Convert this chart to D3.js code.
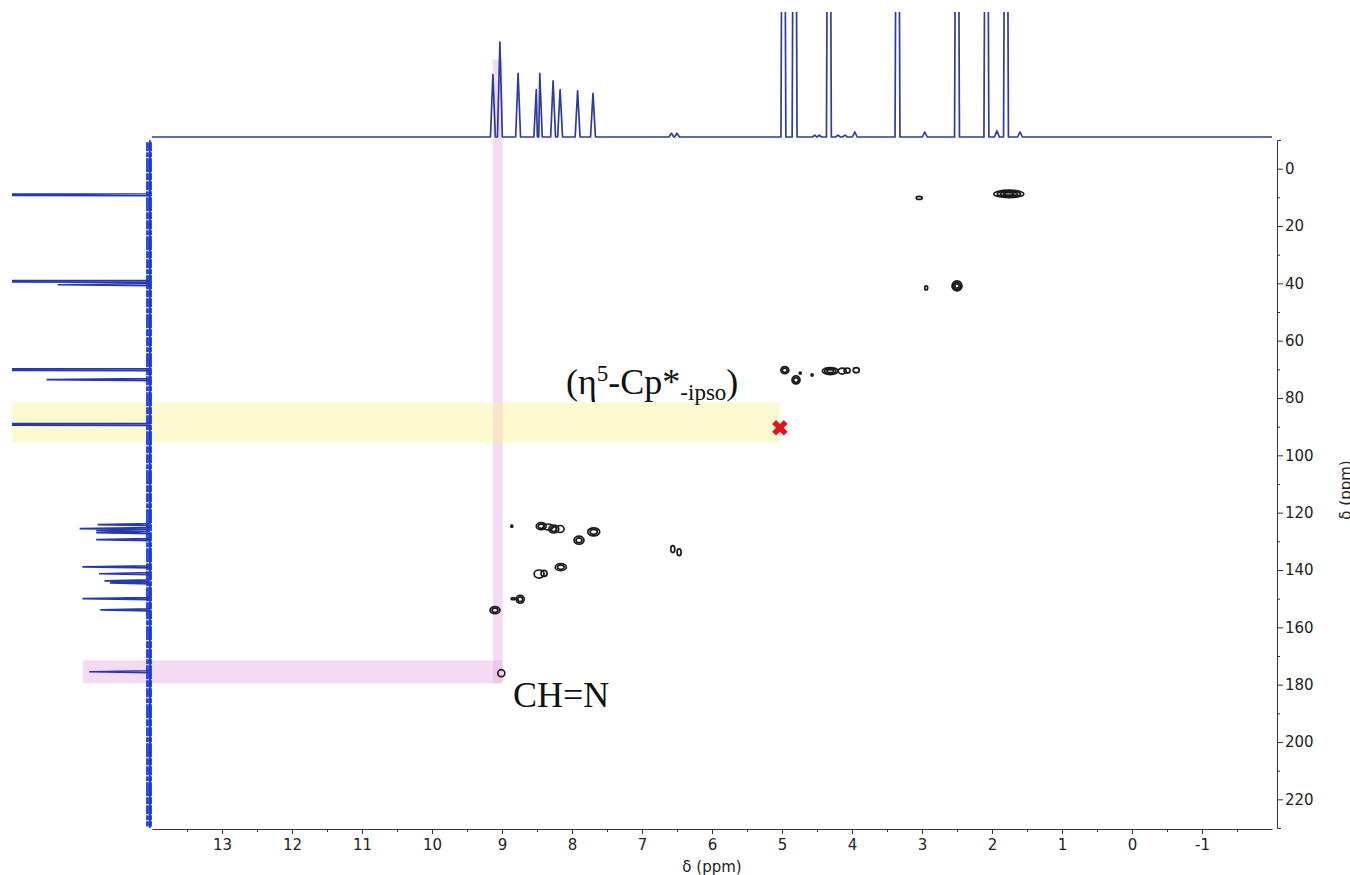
<!DOCTYPE html>
<html>
<head>
<meta charset="utf-8">
<script src="https://cdn.jsdelivr.net/npm/d3@7"></script>
<style>
body{margin:0;background:#fff;}
svg text{font-family:"DejaVu Sans",Tahoma,sans-serif;}
.axis path,.axis line{stroke:#333;stroke-width:1;}
.axis text{font-size:15px;fill:#222;font-family:"DejaVu Sans",Tahoma,sans-serif;}
.lbl{font-family:"Liberation Serif","Times New Roman",serif;fill:#111;}
</style>
</head>
<body>
<svg id="chart" width="1350" height="875"></svg>
<script>
// 1H projection (top): shift in ppm, relative height (1 = top of the strip, larger is clipped)
var protonShift  = [9.13, 9.03, 8.77, 8.51, 8.46, 8.27, 8.17, 7.92, 7.70, 6.58, 6.50, 4.98, 4.82, 4.53, 4.47, 4.33, 4.20, 4.10, 3.96, 3.35, 2.96, 2.50, 2.08, 1.93, 1.80, 1.60];
var protonHeight = [0.50, 0.76, 0.51, 0.38, 0.51, 0.45, 0.38, 0.37, 0.35, 0.03, 0.03, 5, 5, 0.015, 0.015, 5, 0.015, 0.015, 0.04, 5, 0.04, 5, 5, 0.05, 5, 0.04];

// 13C projection (left): shift in ppm, relative height (1 = left edge)
var carbonShift  = [9.1, 39.3, 40.5, 70.1, 73.6, 89.2, 124.2, 125.6, 126.3, 127.0, 129.4, 138.9, 141.3, 143.8, 144.5, 150.0, 153.9, 175.5];
var carbonHeight = [3, 3, 0.67, 3, 0.75, 3, 0.38, 0.51, 0.39, 0.39, 0.39, 0.49, 0.37, 0.33, 0.29, 0.49, 0.36, 0.44];

// cross peaks: 1H ppm, 13C ppm, half widths (ppm), contour levels
var crossH  = [1.76, 3.04, 2.94, 2.50, 4.96, 4.80, 4.74, 4.57, 4.31, 4.14, 4.07, 3.94, 8.86, 8.44, 8.34, 8.26, 8.17, 7.69, 7.90, 6.56, 6.47, 8.16, 8.47, 8.40, 8.74, 8.84, 9.10, 9.01];
var crossC  = [8.8, 10.2, 41.6, 40.9, 70.3, 73.7, 71.3, 72.0, 70.6, 70.6, 70.4, 70.3, 124.7, 124.7, 125.0, 125.7, 125.7, 126.7, 129.6, 132.7, 133.8, 139.0, 141.4, 141.2, 150.2, 150.0, 154.0, 176.0];
var crossWH = [0.214, 0.043, 0.021, 0.071, 0.057, 0.057, 0.014, 0.014, 0.114, 0.057, 0.043, 0.043, 0.014, 0.071, 0.071, 0.071, 0.057, 0.086, 0.071, 0.029, 0.029, 0.079, 0.071, 0.043, 0.057, 0.029, 0.071, 0.05];
var crossWC = [1.3, 0.52, 0.7, 1.74, 1.22, 1.4, 0.35, 0.42, 1.22, 1.05, 0.87, 0.87, 0.35, 1.22, 1.05, 1.4, 1.22, 1.4, 1.4, 1.22, 1.22, 1.22, 1.4, 1.05, 1.4, 0.35, 1.22, 1.22];
var crossLev = [4, 1, 1, 3, 2, 2, 1, 1, 3, 1, 1, 1, 1, 2, 1, 2, 1, 2, 2, 1, 1, 2, 1, 1, 2, 1, 2, 1];

// axis ticks
var xTicks = [13, 12, 11, 10, 9, 8, 7, 6, 5, 4, 3, 2, 1, 0, -1];
var xMinor = [13.5, 12.5, 11.5, 10.5, 9.5, 8.5, 7.5, 6.5, 5.5, 4.5, 3.5, 2.5, 1.5, 0.5, -0.5, -1.5];
var yTicks = [0, 20, 40, 60, 80, 100, 120, 140, 160, 180, 200, 220];
var yMinor = [10, 30, 50, 70, 90, 110, 130, 150, 170, 190, 210];

// highlights (ppm)
var pinkH = [9.13, 8.99];        // 1H range of the CH=N column
var pinkC = [171.5, 179.5];      // 13C range of the CH=N row
var yellowC = [81.6, 95.6];      // 13C range of the Cp* ipso row
var ipsoMark = [5.03, 90.4];     // missing ipso cross peak

var svg = d3.select("#chart");

var xH = d3.scaleLinear().domain([14, -2]).range([152, 1272]);
var yC = d3.scaleLinear().domain([-10, 230]).range([140, 828]);
var yTop = d3.scaleLinear().domain([0, 1]).range([137, 12]);
var xC = d3.scaleLinear().domain([0, 1]).range([150, 12]);

var defs = svg.append("defs");
defs.append("clipPath").attr("id", "clipTop").append("rect")
	.attr("x", 0).attr("y", yTop(1)).attr("width", 1350).attr("height", yTop(0) - yTop(1) + 4);
defs.append("clipPath").attr("id", "clipLeft").append("rect")
	.attr("x", xC(1)).attr("y", 0).attr("width", xC(0) - xC(1) + 6).attr("height", 875);

// highlight bands
svg.append("rect")
	.attr("x", xH(pinkH[0])).attr("y", yTop(0.62))
	.attr("width", xH(pinkH[1]) - xH(pinkH[0])).attr("height", yC(pinkC[1]) - yTop(0.62))
	.attr("fill", "#e6b0e4").attr("opacity", 0.45);
svg.append("rect")
	.attr("x", xC(0.486)).attr("y", yC(pinkC[0]))
	.attr("width", xH(pinkH[1]) - xC(0.486)).attr("height", yC(pinkC[1]) - yC(pinkC[0]))
	.attr("fill", "#e6b0e4").attr("opacity", 0.45);
svg.append("rect")
	.attr("x", xC(1)).attr("y", yC(yellowC[0]))
	.attr("width", xH(ipsoMark[0]) - xC(1)).attr("height", yC(yellowC[1]) - yC(yellowC[0]))
	.attr("fill", "#faf29a").attr("opacity", 0.45);

// top 1H trace
var hw = 0.035;
var topPts = [[14, 0]];
protonShift.forEach(function(p, i){
	topPts.push([p + hw, 0], [p, protonHeight[i]], [p - hw, 0]);
});
topPts.push([-2, 0]);
topPts.sort(function(a, b){ return b[0] - a[0]; });

svg.append("path")
	.attr("clip-path", "url(#clipTop)")
	.attr("d", d3.line().x(function(d){ return xH(d[0]); }).y(function(d){ return yTop(d[1]); })(topPts))
	.attr("fill", "none").attr("stroke", "#2e3c9c").attr("stroke-width", 1.7)
	.attr("stroke-linejoin", "round");

// left 13C trace: noise band then peaks
svg.append("line")
	.attr("x1", xC(0) - 1).attr("x2", xC(0) - 1)
	.attr("y1", yC(-9.2)).attr("y2", yC(229.5))
	.attr("stroke", "#2a4ee6").attr("stroke-width", 6)
	.attr("stroke-dasharray", "9,1,5,1,14,1,7,1");

var cw = 0.35;
var leftPts = [[-10, 0]];
carbonShift.forEach(function(c, i){
	leftPts.push([c - cw, 0], [c, carbonHeight[i]], [c + cw, 0]);
});
leftPts.push([230, 0]);
leftPts.sort(function(a, b){ return a[0] - b[0]; });

svg.append("path")
	.attr("clip-path", "url(#clipLeft)")
	.attr("d", d3.line().x(function(d){ return xC(d[1]); }).y(function(d){ return yC(d[0]); })(leftPts))
	.attr("fill", "none").attr("stroke", "#2638b0").attr("stroke-width", 1.7);

// contours
var rings = [];
crossH.forEach(function(h, i){
	for (var k = 0; k < crossLev[i]; k++) {
		var f = 1 - k / (crossLev[i] + 0.5);
		rings.push({h: h, c: crossC[i], rx: crossWH[i] * f, ry: crossWC[i] * f});
	}
});
svg.append("g").selectAll("ellipse")
	.data(rings)
	.enter()
	.append("ellipse")
	.attr("cx", function(d){ return xH(d.h); })
	.attr("cy", function(d){ return yC(d.c); })
	.attr("rx", function(d){ return Math.abs(xH(d.h + d.rx) - xH(d.h)); })
	.attr("ry", function(d){ return Math.abs(yC(d.c + d.ry) - yC(d.c)); })
	.attr("fill", "none").attr("stroke", "#1a1a1a").attr("stroke-width", 1.7);

// red cross marker
svg.append("path")
	.attr("d", d3.symbol().type(d3.symbolCross).size(150)())
	.attr("transform", "translate(" + xH(ipsoMark[0]) + "," + yC(ipsoMark[1]) + ") rotate(45)")
	.attr("fill", "#e3141b");

// bottom axis
var gx = svg.append("g").attr("class", "axis").attr("transform", "translate(0,829)");
gx.call(d3.axisBottom(xH).tickValues(xTicks).tickSize(5).tickSizeOuter(0).tickPadding(5)
	.tickFormat(function(d){ return String(d); }));
var gxm = svg.append("g").attr("class", "axis").attr("transform", "translate(0,829)");
gxm.call(d3.axisBottom(xH).tickValues(xMinor).tickSize(3).tickFormat(""));
gxm.select(".domain").remove();

svg.append("text")
	.attr("x", (xH.range()[0] + xH.range()[1]) / 2).attr("y", 872)
	.attr("text-anchor", "middle").style("font-size", "15px").attr("fill", "#222")
	.text("δ (ppm)");

// right axis
var gy = svg.append("g").attr("class", "axis").attr("transform", "translate(1277,0)");
gy.call(d3.axisRight(yC).tickValues(yTicks).tickSize(6).tickSizeOuter(4).tickPadding(2)
	.tickFormat(function(d){ return String(d); }));
var gym = svg.append("g").attr("class", "axis").attr("transform", "translate(1277,0)");
gym.call(d3.axisRight(yC).tickValues(yMinor).tickSize(3).tickFormat(""));
gym.select(".domain").remove();

svg.append("text")
	.attr("transform", "translate(1351,490) rotate(-90)")
	.attr("text-anchor", "middle").style("font-size", "15px").attr("fill", "#222")
	.text("δ (ppm)");

// annotations
var t1 = svg.append("text").attr("class", "lbl").attr("x", 566).attr("y", 394).style("font-size", "36px");
t1.append("tspan").text("(η");
t1.append("tspan").attr("dy", -13).style("font-size", "23px").text("5");
t1.append("tspan").attr("dy", 13).text("-Cp*");
t1.append("tspan").attr("dy", 6).style("font-size", "23px").text("-ipso");
t1.append("tspan").attr("dy", -6).text(")");

svg.append("text").attr("class", "lbl").attr("x", 513).attr("y", 707)
	.style("font-size", "36px").text("CH=N");
</script>
</body>
</html>
